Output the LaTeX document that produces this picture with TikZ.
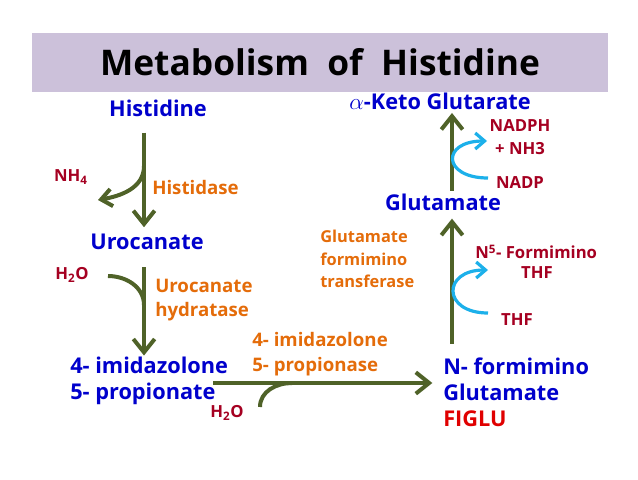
\documentclass[tikz,border=0pt]{standalone}
\usepackage{fontspec}
\setmainfont{Open Sans}
\usetikzlibrary{arrows.meta}
\definecolor{bandlilac}{HTML}{CCC1DA}
\definecolor{moleblue}{HTML}{0000CC}
\definecolor{enzorange}{HTML}{E46C0A}
\definecolor{cofred}{HTML}{A50021}
\definecolor{figlured}{HTML}{E00000}
\definecolor{stemolive}{HTML}{4F6228}
\definecolor{loopblue}{HTML}{1CB0EA}
\tikzset{
  mol/.style={text=moleblue,font=\bfseries\fontsize{16.3}{19.5}\selectfont,inner sep=0pt},
  enz/.style={text=enzorange,font=\bfseries\fontsize{14}{18.5}\selectfont,align=left,inner sep=0pt},
  cof/.style={text=cofred,font=\bfseries\fontsize{12.5}{17}\selectfont,inner sep=0pt},
  stem/.style={draw=stemolive,line width=3pt,-{Straight Barb[length=10pt,width=16pt]}},
  side/.style={draw=stemolive,line width=3pt},
  loop/.style={draw=loopblue,line width=2.4pt,-{Straight Barb[length=7pt,width=12pt]}}
}
\begin{document}
\begin{tikzpicture}[x=0.75pt,y=-0.75pt]
  \useasboundingbox (0,0) rectangle (638,479);
  \fill[bandlilac] (32,33) rectangle (608,92);
  \node[font=\bfseries\fontsize{26.5}{30}\selectfont] (title) at (320,62) {Metabolism\ \ of\ \ Histidine};
  % compounds
  \node[mol] (his) at (158,108) {Histidine};
  \node[mol] (uro) at (147,242) {Urocanate};
  \node[mol,anchor=west,align=left] (imp) at (70,381) {4- imidazolone\\5- propionate};
  \node[mol,anchor=west,align=left] (figlu) at (443,392) {N- formimino\\Glutamate\\\textcolor{figlured}{FIGLU}};
  \node[mol] (glu) at (443,202) {Glutamate};
  \node[mol] (akg) at (440,101) {$\alpha$-Keto Glutarate};
  % enzymes
  \node[enz,anchor=west] (hase) at (152,187) {Histidase};
  \node[enz,anchor=west] (uhase) at (155,300) {Urocanate\\hydratase};
  \node[enz,anchor=west] (ipase) at (252,354) {4- imidazolone\\5- propionase};
  \node[enz,anchor=west,font=\bfseries\fontsize{12.3}{17}\selectfont] (gft) at (320,259) {Glutamate\\formimino\\transferase};
  % cofactors
  \node[cof] (nh4) at (71,177) {NH\textsubscript{4}};
  \node[cof] (h2oa) at (72,275) {H\textsubscript{2}O};
  \node[cof] (h2ob) at (227,413) {H\textsubscript{2}O};
  \node[cof,align=center] (nadph) at (520,137) {NADPH\\+ NH3};
  \node[cof] (nadp) at (520,183) {NADP};
  \node[cof,anchor=west] (n5) at (475,252) {N\textsuperscript{5}- Formimino};
  \node[cof] (thfa) at (537,273) {THF};
  \node[cof] (thfb) at (517,320) {THF};
  % main steps
  \coordinate (colA) at (144,0);
  \coordinate (colB) at (452,0);
  \coordinate (rowC) at (213,383);
  \draw[stem,shorten <=12pt,shorten >=5pt] (his.south -| colA) -- (uro.north -| colA);
  \draw[stem,shorten <=13pt,shorten >=1pt] (uro.south -| colA) -- (imp.north -| colA);
  \draw[stem,shorten >=8pt] (rowC) -- (figlu.west |- rowC);
  \draw[stem,shorten <=10pt,shorten >=6pt] (figlu.north -| colB) -- (glu.south -| colB);
  \draw[stem,shorten <=2pt,shorten >=2.5pt] (glu.north -| colB) -- (akg.south -| colB);
  % side reactions
  \coordinate (nh4from) at (144,166);
  \coordinate (nh4tip) at (98,200);
  \draw[side,-{Straight Barb[length=8pt,width=13pt]}] (nh4from) to[out=-90,in=10] (nh4tip);
  \coordinate (h2oafrom) at (108,276);
  \coordinate (h2oajoin) at (144,305);
  \draw[side] (h2oafrom) to[out=0,in=90] (h2oajoin);
  \coordinate (h2obfrom) at (260,407);
  \coordinate (h2objoin) at (292,383);
  \draw[side] (h2obfrom) to[out=90,in=180] (h2objoin);
  \coordinate (nadpin) at (488,178);
  \coordinate (nadphout) at (487,141);
  \draw[loop] (nadpin) .. controls +(-46,0) and +(-46,0) .. (nadphout);
  \coordinate (thfin) at (488,313);
  \coordinate (n5out) at (488,270);
  \draw[loop] (thfin) .. controls +(-46,0) and +(-46,0) .. (n5out);
\end{tikzpicture}
\end{document}
